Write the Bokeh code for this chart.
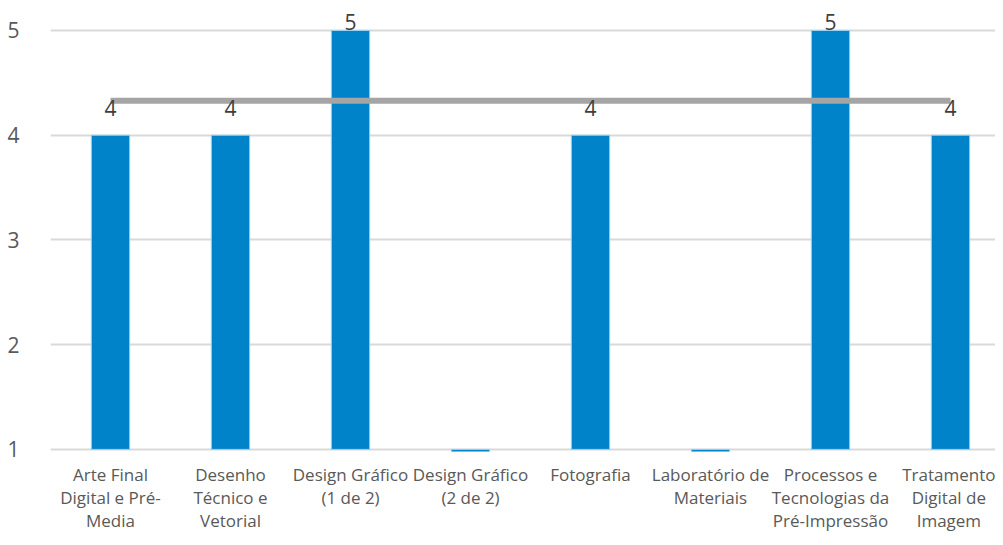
from bokeh.plotting import figure
from bokeh.models import FixedTicker, ColumnDataSource
from bokeh.core.properties import value
from bokeh.embed import file_html
from bokeh.resources import INLINE

categorias = [
    "Arte Final\nDigital e Pré-\nMedia",
    "Desenho\nTécnico e\nVetorial",
    "Design Gráfico\n(1 de 2)",
    "Design Gráfico\n(2 de 2)",
    "Fotografia",
    "Laboratório de\nMateriais",
    "Processos e\nTecnologias da\nPré-Impressão",
    "Tratamento\nDigital de\nImagem",
]
notas = [4, 4, 5, 0, 4, 0, 5, 4]
media = 4.33
y_ticks = [1, 2, 3, 4, 5]

FONT = "Open Sans"
TXT = "#595959"
BLUE = "#0083C9"

xs = list(range(len(categorias)))

p = figure(
    width=995, height=537,
    x_range=(-0.5, 7.375), y_range=(0.98, 5.286),
    output_backend="svg", toolbar_location=None,
    min_border_left=50, min_border_right=0, min_border_top=0, min_border_bottom=86,
)
p.outline_line_color = None
p.background_fill_color = "white"
p.border_fill_color = "white"

# grid
p.xgrid.grid_line_color = None
p.ygrid.grid_line_color = "#D9D9D9"
p.ygrid.grid_line_width = 2
p.ygrid.ticker = FixedTicker(ticks=y_ticks)

# y axis
p.yaxis.ticker = FixedTicker(ticks=y_ticks)
p.yaxis.axis_line_color = None
p.yaxis.major_tick_line_color = None
p.yaxis.minor_tick_line_color = None
p.yaxis.major_label_standoff = 25
p.yaxis.major_label_text_font = FONT
p.yaxis.major_label_text_font_size = "21px"
p.yaxis.major_label_text_color = TXT

# x axis
p.xaxis.ticker = FixedTicker(ticks=xs)
p.xaxis.major_label_overrides = {i: c for i, c in zip(xs, categorias)}
p.xaxis.axis_line_color = None
p.xaxis.major_tick_line_color = None
p.xaxis.minor_tick_line_color = None
p.xaxis.major_label_standoff = 5
p.xaxis.major_label_text_font = FONT
p.xaxis.major_label_text_font_size = "17px"
p.xaxis.major_label_text_color = TXT
p.xaxis.major_label_text_line_height = 1.02

src = ColumnDataSource(dict(x=xs, top=notas))
p.vbar(x="x", top="top", bottom=1, width=0.32, source=src,
       fill_color=BLUE, line_color="#9FD2EE", line_width=1)

# average line
p.line(x=[xs[0], xs[-1]], y=[media, media], line_color="#A5A5A5", line_width=6)

# data labels
acima = [(x, v) for x, v in zip(xs, notas) if v > media]
abaixo = [(x, v) for x, v in zip(xs, notas) if 0 < v <= media]
p.text(x=[a[0] for a in acima], y=[a[1] for a in acima], text=[str(a[1]) for a in acima],
       text_align="center", text_baseline="middle", y_offset=-8,
       text_font=value(FONT), text_font_size="21px", text_color="#404040")
p.text(x=[a[0] for a in abaixo], y=[media] * len(abaixo), text=[str(a[1]) for a in abaixo],
       text_align="center", text_baseline="middle", y_offset=7,
       text_font=value(FONT), text_font_size="21px", text_color="#404040")

open("out.html", "w").write(file_html(p, INLINE))
